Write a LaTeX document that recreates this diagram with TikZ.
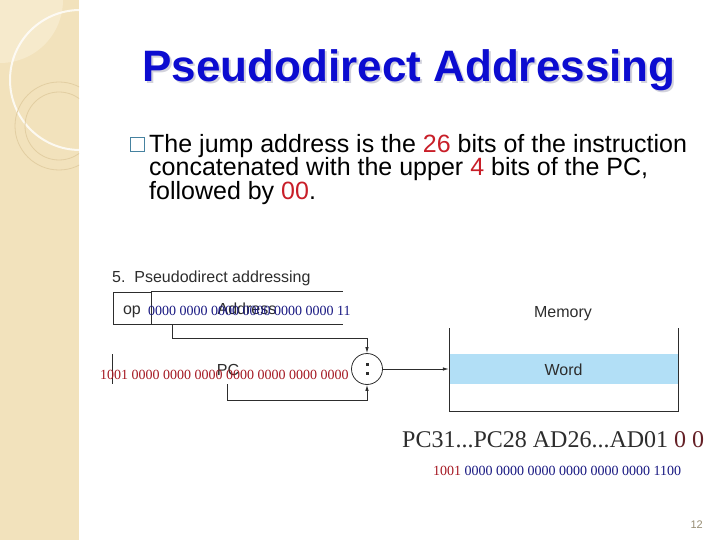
\documentclass[tikz,border=0pt]{standalone}
\usepackage{fontspec}
\setmainfont{Liberation Sans}
\newfontfamily\bitsfont{Liberation Serif}
\usetikzlibrary{arrows.meta,positioning}
\definecolor{titleBlue}{RGB}{12,12,208}
\definecolor{shadowGray}{RGB}{210,210,220}
\definecolor{stripTan}{RGB}{242,226,188}
\definecolor{stripLine}{RGB}{226,206,162}
\definecolor{stripLight}{RGB}{250,240,215}
\definecolor{bulletTeal}{RGB}{70,130,160}
\definecolor{hiRed}{RGB}{200,30,40}
\definecolor{binRed}{RGB}{165,25,35}
\definecolor{binBlue}{RGB}{25,25,130}
\definecolor{figGray}{RGB}{45,45,45}
\definecolor{wordBlue}{RGB}{178,223,246}
\definecolor{zeroRed}{RGB}{100,32,38}
\definecolor{pageTan}{RGB}{150,140,115}

\begin{document}
\begin{tikzpicture}[x=1pt, y=-1pt,
    bodytext/.style={anchor=north west, inner sep=0pt, align=left, font=\fontsize{25}{23.5}\selectfont},
    figtext/.style={text=figGray, inner sep=0pt, anchor=base, font=\fontsize{16}{18}\selectfont},
    bits/.style={inner sep=0pt, anchor=base west, font=\bitsfont\fontsize{14}{15}\selectfont},
    conn/.style={draw=figGray, line width=0.8pt, -{Latex[length=6pt,width=3.5pt]}}]
    \useasboundingbox (0,0) rectangle (720,540);

    % left strip
    \fill[stripTan] (0,0) rectangle (79,540);
    \begin{scope}
        \clip (0,0) rectangle (79,540);
        \fill[stripLight, opacity=0.6] (0,0) circle (63);
        \draw[white, line width=2pt, opacity=0.8] (80,80) circle (70);
        \draw[stripLine, line width=0.8pt] (59,126) circle (44);
        \draw[stripLine, line width=0.8pt] (59,126) circle (34);
    \end{scope}

    % title with shadow
    \node[anchor=base, inner sep=0pt, text=shadowGray, font=\fontsize{44}{48}\selectfont\bfseries]
        (titleshadow) at (411,84) {Pseudodirect Addressing};
    \node[anchor=base, inner sep=0pt, text=titleBlue, font=\fontsize{44}{48}\selectfont\bfseries]
        (title) at (409,82) {Pseudodirect Addressing};

    % bullet text
    \node[draw=bulletTeal, line width=0.8pt, minimum size=14pt, inner sep=0pt] (bullet) at (137,144.5) {};
    \node[bodytext] (point) at (149,134) {The jump address is the \textcolor{hiRed}{26} bits of the instruction\\
        concatenated with the upper \textcolor{hiRed}{4} bits of the PC,\\
        followed by \textcolor{hiRed}{00}.};

    % instruction fields
    \node[figtext, anchor=base west] (caption) at (112,282) {5.\ \ Pseudodirect addressing};
    \node[draw=figGray, line width=0.8pt, minimum width=38pt, minimum height=32pt, inner sep=0pt] (op) at (132,308) {};
    \node[figtext] (opname) at (132,314) {op};
    \draw[figGray, line width=0.8pt] (op.north east) -- ++(192,0);
    \draw[figGray, line width=0.8pt] (op.south east) -- ++(192,0);
    \node[figtext] (addrname) at (247,314) {Address};
    \node[bits, text=binBlue] (addrbits) at (148,315) {0000 0000 0000 0000 0000 0000 11};
    \coordinate (addrtap) at (172,324);

    % PC
    \draw[figGray, line width=0.8pt] (112,354) -- (112,384);
    \node[figtext] (pcname) at (228,375) {PC};
    \node[bits, text=binRed] (pcbits) at (100,379) {1001 0000 0000 0000 0000 0000 0000 0000};
    \coordinate (pctap) at (227,384);

    % concatenation
    \node[draw=figGray, line width=0.8pt, circle, minimum size=31pt, inner sep=0pt] (concat) at (367,369) {};
    \fill[figGray] (366,363) rectangle (369,366);
    \fill[figGray] (366,372) rectangle (369,375);
    \draw[conn] (addrtap) -- ++(0,14) -| (concat.north);
    \draw[conn] (pctap) -- ++(0,16) -| (concat.south);

    % memory
    \node[figtext] (memname) at (563,317) {Memory};
    \node[fill=wordBlue, minimum width=229pt, minimum height=30pt, inner sep=0pt] (word) at (563.5,369) {};
    \node[figtext] (wordname) at (563.5,375) {Word};
    \coordinate (memtl) at (449,328);
    \coordinate (membr) at (678,411);
    \draw[figGray, line width=0.8pt] (memtl) |- (membr) -- (membr |- memtl);
    \draw[conn] (concat.east) -- (word.west);

    % result
    \node[anchor=base west, inner sep=0pt, text=figGray, font=\bitsfont\fontsize{24}{26}\selectfont]
        (result) at (402,447) {PC31...PC28 AD26...AD01 \textcolor{zeroRed}{0 0}};
    \node[bits, text=binBlue] (resultbits) at (433,475) {\textcolor{binRed}{1001} 0000 0000 0000 0000 0000 0000 1100};

    % page number
    \node[anchor=base east, inner sep=0pt, text=pageTan, font=\fontsize{11}{12}\selectfont] (pagenum) at (703,528) {12};
\end{tikzpicture}
\end{document}
